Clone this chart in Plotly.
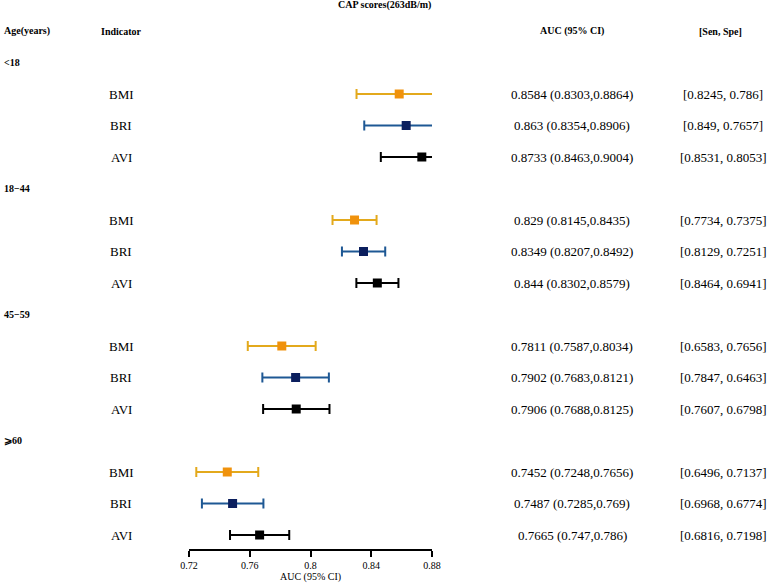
import plotly.graph_objects as go

groups = ["<18", "18\u221244", "45\u221259", "\u2a7e60"]
indicators = ["BMI", "BRI", "AVI"]
auc = {
    "BMI": [0.8584, 0.829, 0.7811, 0.7452],
    "BRI": [0.863, 0.8349, 0.7902, 0.7487],
    "AVI": [0.8733, 0.844, 0.7906, 0.7665],
}
lower = {
    "BMI": [0.8303, 0.8145, 0.7587, 0.7248],
    "BRI": [0.8354, 0.8207, 0.7683, 0.7285],
    "AVI": [0.8463, 0.8302, 0.7688, 0.747],
}
upper = {
    "BMI": [0.8864, 0.8435, 0.8034, 0.7656],
    "BRI": [0.8906, 0.8492, 0.8121, 0.769],
    "AVI": [0.9004, 0.8579, 0.8125, 0.786],
}
auc_text = {
    "BMI": ["0.8584 (0.8303,0.8864)", "0.829 (0.8145,0.8435)", "0.7811 (0.7587,0.8034)", "0.7452 (0.7248,0.7656)"],
    "BRI": ["0.863 (0.8354,0.8906)", "0.8349 (0.8207,0.8492)", "0.7902 (0.7683,0.8121)", "0.7487 (0.7285,0.769)"],
    "AVI": ["0.8733 (0.8463,0.9004)", "0.844 (0.8302,0.8579)", "0.7906 (0.7688,0.8125)", "0.7665 (0.747,0.786)"],
}
sen_spe = {
    "BMI": ["[0.8245, 0.786]", "[0.7734, 0.7375]", "[0.6583, 0.7656]", "[0.6496, 0.7137]"],
    "BRI": ["[0.849, 0.7657]", "[0.8129, 0.7251]", "[0.7847, 0.6463]", "[0.6968, 0.6774]"],
    "AVI": ["[0.8531, 0.8053]", "[0.8464, 0.6941]", "[0.7607, 0.6798]", "[0.6816, 0.7198]"],
}
tick_vals = [0.72, 0.76, 0.8, 0.84, 0.88]
tick_text = ["0.72", "0.76", "0.8", "0.84", "0.88"]

line_colors = {"BMI": "#E3A91C", "BRI": "#1E5894", "AVI": "#000000"}
marker_colors = {"BMI": "#F0920C", "BRI": "#0B1F5E", "AVI": "#000000"}

FONT = "Liberation Serif, Times New Roman, serif"

fig = go.Figure()
annotations = []

def row_of(g, k):
    return 1 + g * 4 + 1 + k

for k, ind in enumerate(indicators):
    ys = [row_of(g, k) for g in range(len(groups))]
    xs = auc[ind]
    fig.add_trace(go.Scatter(
        x=xs, y=ys, mode="markers",
        marker=dict(symbol="square", size=9, color=marker_colors[ind],
                    line=dict(width=0)),
        error_x=dict(type="data", symmetric=False,
                     array=[u - a for u, a in zip(upper[ind], xs)],
                     arrayminus=[a - l for a, l in zip(xs, lower[ind])],
                     color=line_colors[ind], thickness=2, width=5),
        showlegend=False, hoverinfo="skip",
    ))

def ann(text, x, y, size=13, bold=False, xanchor="center", yref="y"):
    annotations.append(dict(
        text=f"<b>{text}</b>" if bold else text, x=x, y=y, xref="paper", yref=yref,
        xanchor=xanchor, yanchor="middle", showarrow=False,
        font=dict(family=FONT, size=size, color="black")))

W = 769.0
# Header
ann("CAP scores(263dB/m)", 384 / W, -0.83, size=10, bold=True)
ann("Age(years)", 2 / W, 0, size=10, bold=True, xanchor="left")
ann("Indicator", 99 / W, 0, size=10, bold=True, xanchor="left")
ann("AUC (95% CI)", 572 / W, 0, size=10, bold=True)
ann("[Sen, Spe]", 720 / W, 0, size=10, bold=True)

for g, grp in enumerate(groups):
    ann(grp, 2 / W, 1 + g * 4, size=10, bold=True, xanchor="left")
    for k, ind in enumerate(indicators):
        r = row_of(g, k)
        ann(ind, 121 / W, r, size=13)
        ann(auc_text[ind][g], 572 / W, r, size=13)
        ann(sen_spe[ind][g], 723 / W, r, size=13)

y0 = 31.0
step = 31.5
bottom = 549.0
fig.update_layout(
    template="none",
    width=769, height=585,
    margin=dict(l=0, r=0, t=0, b=585 - 549, pad=0, autoexpand=False),
    paper_bgcolor="white", plot_bgcolor="white",
    annotations=annotations,
    xaxis=dict(domain=[189 / W, 432 / W], range=[0.72, 0.88], automargin=False,
               showline=True, linecolor="black", linewidth=2,
               ticks="outside", tickwidth=2, ticklen=6, tickcolor="black",
               tickvals=tick_vals, ticktext=tick_text,
               tickfont=dict(family=FONT, size=10, color="black"),
               showgrid=False, zeroline=False,
               title=dict(text="AUC (95% CI)", standoff=2,
                          font=dict(family=FONT, size=10, color="black"))),
    yaxis=dict(range=[(bottom - y0) / step, -y0 / step], visible=False,
               automargin=False, showgrid=False, zeroline=False),
)

fig.write_html("out.html", config={"displayModeBar": False},
               post_script="document.body.style.margin='0';document.body.style.padding='0';document.body.style.overflow='hidden';")
